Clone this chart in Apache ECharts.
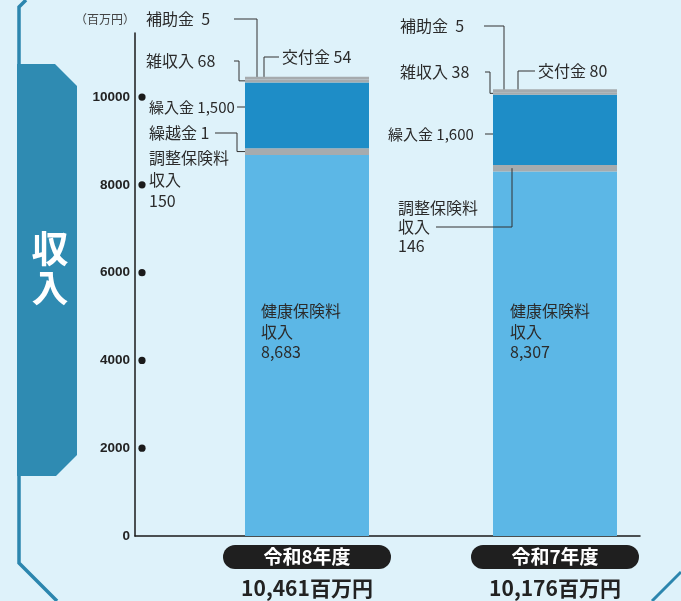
<!DOCTYPE html>
<html>
<head>
<meta charset="utf-8">
<script src="https://cdn.jsdelivr.net/npm/echarts@6/dist/echarts.min.js"></script>
<style>
html,body{margin:0;padding:0;background:#def2fa;}
#c{width:681px;height:601px;}
</style>
</head>
<body>
<div id="c"></div>
<script>
// ---- data ----
const categories = ['令和8年度', '令和7年度'];
const healthIns = [8683, 8307];   // 健康保険料収入
const adjustIns = [150, 146];     // 調整保険料収入
const carryOver = [1, 0];         // 繰越金
const transfer  = [1500, 1600];   // 繰入金
const misc      = [68, 38];       // 雑収入
const subsidy   = [5, 5];         // 補助金
const grant     = [54, 80];       // 交付金
const yTicks    = [0, 2000, 4000, 6000, 8000, 10000];
const unitLabel = '（百万円）';
const sideTitle = ['収', '入'];

// ---- styling ----
const C_LIGHT = '#5cb7e6', C_DARK = '#1e8dc7', C_GRAY = '#a6abae';
const Y_MAX = 11460, BAR_W = 124;
const FONT = '"Noto Sans CJK JP", "Noto Sans", sans-serif';
const fmt = v => v.toLocaleString('en-US');
const totals = categories.map((_, i) =>
  healthIns[i] + adjustIns[i] + carryOver[i] + transfer[i] + misc[i] + subsidy[i] + grant[i]);

const chart = echarts.init(document.getElementById('c'), null, {renderer: 'canvas'});

function mk(name, data, color) {
  return {
    name, type: 'bar', stack: 'total', xAxisIndex: 0, yAxisIndex: 0,
    data, barWidth: BAR_W, itemStyle: {color}, emphasis: {disabled: true}
  };
}

chart.setOption({
  animation: false,
  backgroundColor: '#def2fa',
  textStyle: {fontFamily: FONT},
  grid: [
    {left: 183, right: 2, top: 33, bottom: 65},
    {left: 135, right: 41, top: 33, bottom: 65}
  ],
  xAxis: [
    {
      type: 'category', gridIndex: 0, data: categories,
      axisLine: {show: false}, axisTick: {show: false},
      axisLabel: {
        margin: 9, interval: 0,
        formatter: (v, i) => '{pill|' + v + '}\n{tot|' + fmt(totals[i]) + '百万円}',
        rich: {
          pill: {backgroundColor: '#1f1f1f', borderRadius: 12, width: 168, height: 24, lineHeight: 24,
                 color: '#fff', fontSize: 19, fontWeight: 'bold', align: 'center', fontFamily: FONT},
          tot: {color: '#222', fontSize: 21, fontWeight: 'bold', lineHeight: 38, align: 'center', fontFamily: FONT}
        }
      }
    },
    {
      type: 'value', gridIndex: 1, min: 0, max: 1,
      axisLine: {show: true, lineStyle: {color: '#1a1a1a', width: 1.5}},
      axisTick: {show: false}, axisLabel: {show: false}, splitLine: {show: false}
    }
  ],
  yAxis: [
    {type: 'value', gridIndex: 0, min: 0, max: Y_MAX, show: false},
    {
      type: 'value', gridIndex: 1, min: 0, max: Y_MAX, interval: 2000,
      name: unitLabel, nameLocation: 'end', nameGap: 8,
      nameTextStyle: {align: 'right', verticalAlign: 'bottom', fontSize: 12, color: '#444', fontFamily: FONT},
      axisLine: {show: true, lineStyle: {color: '#1a1a1a', width: 1.5}},
      axisTick: {show: false}, splitLine: {show: false},
      axisLabel: {
        margin: 5, showMaxLabel: false,
        formatter: v => (yTicks.indexOf(v) >= 0 ? String(v) : ''),
        fontFamily: '"Liberation Sans", Arial, sans-serif', fontWeight: 'bold', fontSize: 13.5, color: '#222'
      }
    }
  ],
  series: [
    mk('健康保険料収入', healthIns, C_LIGHT),
    mk('調整保険料収入', adjustIns, C_GRAY),
    mk('繰越金', carryOver, C_GRAY),
    mk('繰入金', transfer, C_DARK),
    mk('雑収入', misc, C_GRAY),
    mk('補助金', subsidy, C_GRAY),
    mk('交付金', grant, C_GRAY)
  ]
});

// ---- annotations (positioned from the chart's own scales) ----
const LINE = {stroke: '#333', lineWidth: 1, fill: null};
const TXT = (text, x, y, extra) => ({
  type: 'text', z: 100,
  style: Object.assign({text, x, y, fill: '#2b2b2b', font: '16px ' + FONT, align: 'left', verticalAlign: 'middle'}, extra || {})
});
const PL = pts => ({type: 'polyline', z: 100, shape: {points: pts}, style: LINE});

const g = [];
// frame and side tab
g.push({type: 'polyline', z: 1, shape: {points: [[26, 0], [19, 7], [19, 563], [57, 601]]},
        style: {stroke: '#2c86ae', lineWidth: 3.5, fill: null}});
g.push({type: 'polyline', z: 1, shape: {points: [[652, 601], [681, 572]]},
        style: {stroke: '#2c86ae', lineWidth: 3, fill: null}});
g.push({type: 'polygon', z: 1, shape: {points: [[17, 64], [55, 64], [77, 86], [77, 455], [56, 476], [17, 476]]},
        style: {fill: '#2f8bb2'}});
sideTitle.forEach((ch, k) => g.push(TXT(ch, 50, 249 + k * 39,
  {fill: '#fff', font: 'bold 37px ' + FONT, align: 'center'})));

// tick dots
yTicks.forEach(v => {
  if (v === 0) return;
  const p = chart.convertToPixel({gridIndex: 1}, [0, v]);
  g.push({type: 'circle', z: 100, shape: {cx: p[0] + 7, cy: p[1], r: 3.6}, style: {fill: '#1a1a1a'}});
});

categories.forEach((c, i) => {
  const py = v => chart.convertToPixel({xAxisIndex: 0, yAxisIndex: 0}, [i, v]);
  const cx = py(0)[0];
  const bx = cx - BAR_W / 2;
  const yTop = py(totals[i])[1];
  const yLow = py(healthIns[i] + (adjustIns[i] + carryOver[i]) / 2)[1];
  const inner = ['健康保険料', '収入', fmt(healthIns[i])];
  if (i === 0) {
    g.push(TXT('補助金  ' + subsidy[i], bx - 99, 19));
    g.push(PL([[bx - 11, 19], [bx + 12, 19], [bx + 12, yTop]]));
    g.push(TXT('雑収入 ' + misc[i], bx - 99, 61));
    g.push(PL([[bx - 11, 61], [bx - 6, 61], [bx - 6, yTop + 4], [bx, yTop + 4]]));
    g.push(TXT('交付金 ' + grant[i], bx + 37, 57));
    g.push(PL([[bx + 34, 57], [bx + 19, 57], [bx + 19, yTop]]));
    g.push(TXT('繰入金 ' + fmt(transfer[i]), bx - 96, 107, {font: '15px ' + FONT}));
    g.push(PL([[bx - 8, 107], [bx, 107]]));
    g.push(TXT('繰越金 ' + carryOver[i], bx - 96, 133));
    g.push(PL([[bx - 30, 133], [bx - 8, 133], [bx - 8, yLow], [bx, yLow]]));
    ['調整保険料', '収入', fmt(adjustIns[i])].forEach((t, k) => g.push(TXT(t, bx - 96, 158 + k * 21.5)));
    inner.forEach((t, k) => g.push(TXT(t, bx + 16, 311 + k * 20.5)));
  } else {
    g.push(TXT('補助金  ' + subsidy[i], bx - 93, 26));
    g.push(PL([[bx - 9, 26], [bx + 11, 26], [bx + 11, yTop]]));
    g.push(TXT('雑収入 ' + misc[i], bx - 93, 72));
    g.push(PL([[bx - 8, 72], [bx - 3, 72], [bx - 3, yTop + 4], [bx, yTop + 4]]));
    g.push(TXT('交付金 ' + grant[i], bx + 45, 71));
    g.push(PL([[bx + 42, 71], [bx + 25, 71], [bx + 25, yTop]]));
    g.push(TXT('繰入金 ' + fmt(transfer[i]), bx - 105, 134, {font: '15px ' + FONT}));
    g.push(PL([[bx - 8, 134], [bx, 134]]));
    ['調整保険料', '収入', fmt(adjustIns[i])].forEach((t, k) => g.push(TXT(t, bx - 95, 208 + k * 19)));
    g.push(PL([[bx - 57, 227], [bx + 19, 227], [bx + 19, yLow]]));
    inner.forEach((t, k) => g.push(TXT(t, bx + 17, 311 + k * 20.5)));
  }
});

chart.setOption({graphic: g});
</script>
</body>
</html>
